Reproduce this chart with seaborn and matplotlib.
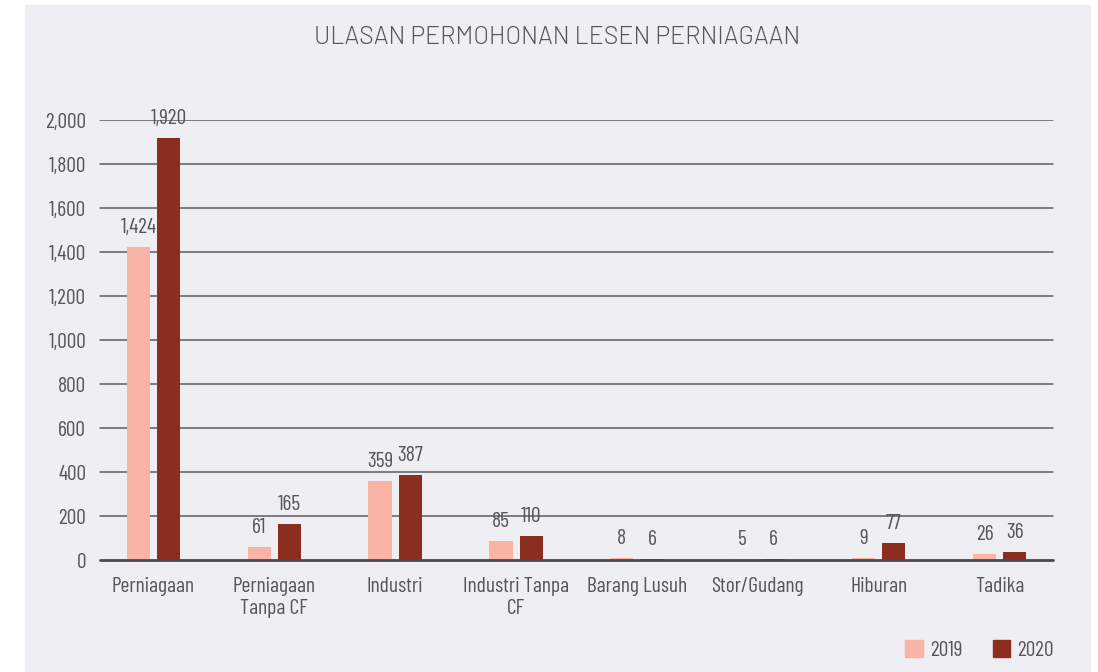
import pandas as pd
import numpy as np
import matplotlib.pyplot as plt
import seaborn as sns
from matplotlib.patches import Rectangle

categories = ['Perniagaan', 'Perniagaan\nTanpa CF', 'Industri', 'Industri Tanpa\nCF',
              'Barang Lusuh', 'Stor/Gudang', 'Hiburan', 'Tadika']
values_2019 = [1424, 61, 359, 85, 8, 5, 9, 26]
values_2020 = [1920, 165, 387, 110, 6, 6, 77, 36]
years = ['2019', '2020']
colors = ['#f9b4a6', '#8b2e1f']

df = pd.DataFrame({
    'category': categories * 2,
    'year': [years[0]] * len(categories) + [years[1]] * len(categories),
    'value': values_2019 + values_2020,
})

sns.set_theme(style='white')
plt.rcParams['font.family'] = ['Barlow Condensed', 'Abel', 'Roboto Condensed', 'DejaVu Sans']
text_col = '#55555a'
bg = '#efeef3'

fig = plt.figure(figsize=(10.98, 6.72), dpi=100, facecolor='white')
fig.patches.append(Rectangle((25 / 1098, 0), (1091 - 25) / 1098, 1 - 5 / 672,
                             transform=fig.transFigure, facecolor=bg,
                             edgecolor='none', zorder=-10))
ax = fig.add_axes([93 / 1098, 1 - 560 / 672, (1060 - 93) / 1098, 440 / 672])
ax.set_facecolor(bg)

sns.barplot(data=df, x='category', y='value', hue='year', palette=colors,
            width=0.5, gap=0.23, ax=ax, legend=False, saturation=1, linewidth=0)

ax.set_ylim(0, 2000)
ax.set_xlim(-0.5, len(categories) - 0.5)
ax.set_yticks(np.arange(0, 2001, 200))
ax.set_yticklabels([f'{v:,}' for v in range(0, 2001, 200)])
gx0, gx1 = 7 / 967, 1 - 7 / 967
for y in range(200, 2001, 200):
    ax.axhline(y, gx0, gx1, color='#5c5c60', lw=1.1, zorder=0)
ax.axhline(0, gx0, gx1, color='#4a4a4e', lw=2, zorder=3, clip_on=False)
for s in ax.spines.values():
    s.set_visible(False)
ax.tick_params(axis='y', length=0, labelsize=15.5, labelcolor=text_col, pad=5)
ax.tick_params(axis='x', length=0, labelsize=15.5, labelcolor=text_col, pad=12)
ax.set_xlabel('')
ax.set_ylabel('')

for cont in ax.containers:
    for bar in cont:
        h = bar.get_height()
        ax.text(bar.get_x() + bar.get_width() / 2, h + 45, f'{int(h):,}',
                ha='center', va='bottom', fontsize=15.5, color=text_col, clip_on=False)

fig.text(557 / 1098, 1 - 37 / 672, 'ULASAN PERMOHONAN LESEN PERNIAGAAN', ha='center', va='center',
         fontsize=18, color=text_col, family=['Barlow', 'Lato', 'DejaVu Sans'], fontweight=300)

handles = [Rectangle((0, 0), 1, 1, color=c) for c in colors]
fig.legend(handles, years, loc='center right', bbox_to_anchor=(1054 / 1098, 1 - 650 / 672),
           ncol=2, frameon=False, fontsize=15.5, labelcolor=text_col, handlelength=0.8,
           handleheight=0.8, columnspacing=1.4, handletextpad=0.35, borderpad=0,
           borderaxespad=0)

fig.savefig('out.png', dpi=100, facecolor='white')
